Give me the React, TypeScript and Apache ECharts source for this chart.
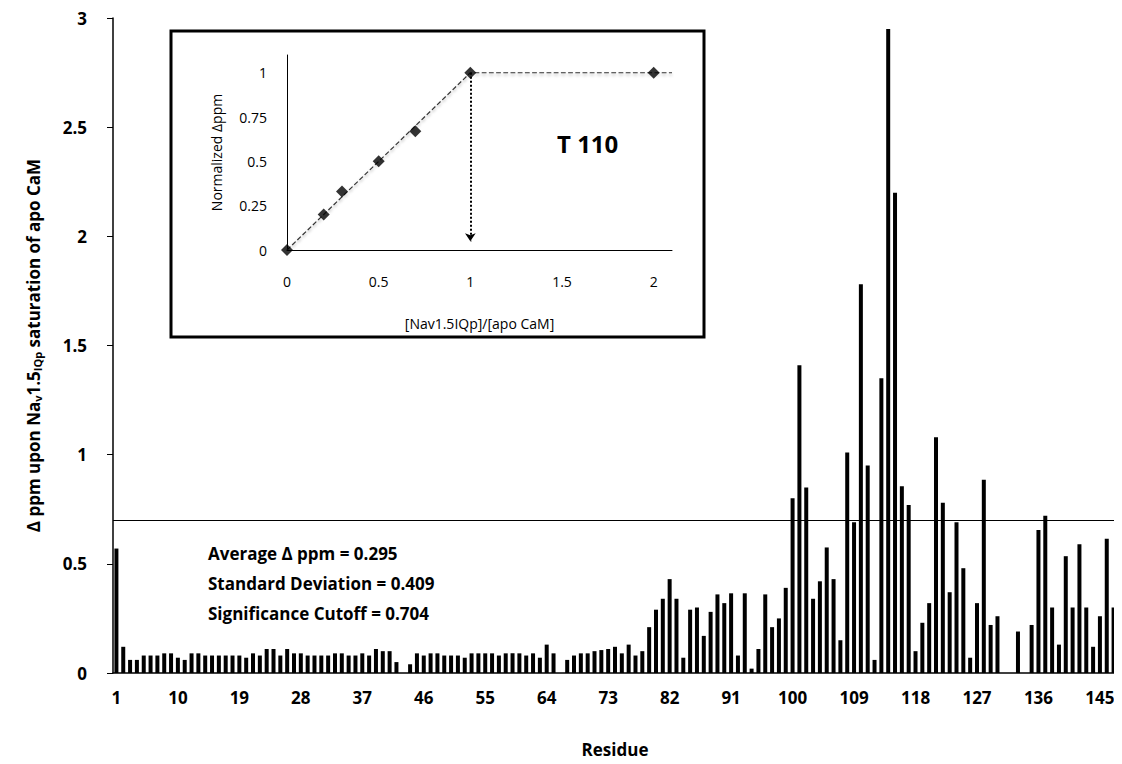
import React, { useEffect, useRef } from 'react';
import * as echarts from 'echarts';

const residues: string[] = Array.from({ length: 147 }, (_, i) => String(i + 1));

const deltaPpm: (number | null)[] = [
  0.57, 0.12, 0.06, 0.06, 0.08, 0.08, 0.08, 0.09, 0.09, 0.07,
  0.06, 0.09, 0.09, 0.08, 0.08, 0.08, 0.08, 0.08, 0.08, 0.07,
  0.09, 0.08, 0.11, 0.11, 0.08, 0.11, 0.09, 0.09, 0.08, 0.08,
  0.08, 0.08, 0.09, 0.09, 0.08, 0.08, 0.09, 0.08, 0.11, 0.10,
  0.10, 0.05, null, 0.04, 0.09, 0.08, 0.09, 0.09, 0.08, 0.08,
  0.08, 0.07, 0.09, 0.09, 0.09, 0.09, 0.08, 0.09, 0.09, 0.09,
  0.08, 0.09, 0.07, 0.13, 0.09, null, 0.06, 0.08, 0.09, 0.09,
  0.10, 0.105, 0.11, 0.12, 0.09, 0.13, 0.08, 0.10, 0.21, 0.29,
  0.34, 0.43, 0.34, 0.07, 0.29, 0.30, 0.17, 0.28, 0.36, 0.32,
  0.365, 0.08, 0.365, 0.02, 0.11, 0.36, 0.21, 0.25, 0.39, 0.80,
  1.41, 0.85, 0.34, 0.42, 0.575, 0.43, 0.15, 1.01, 0.69, 1.78,
  0.95, 0.06, 1.35, 2.95, 2.20, 0.855, 0.77, 0.10, 0.23, 0.32,
  1.08, 0.78, 0.37, 0.69, 0.48, 0.07, 0.32, 0.885, 0.22, 0.26,
  null, null, 0.19, null, 0.22, 0.655, 0.72, 0.30, 0.13, 0.535,
  0.30, 0.59, 0.30, 0.12, 0.26, 0.615, 0.30,
];

const cutoff = 0.704;
const statsLines = [
  'Average \u0394 ppm = 0.295',
  'Standard Deviation = 0.409',
  'Significance Cutoff = 0.704',
];

const ratio = [0, 0.2, 0.3, 0.5, 0.7, 1, 2];
const normalized = [0, 0.2, 0.33, 0.5, 0.67, 1, 1];
const fitLine: [number, number][] = [[0, 0], [1, 1], [2.1, 1]];

const App: React.FC = () => {
  const chartRef = useRef<HTMLDivElement>(null);

  useEffect(() => {
    if (!chartRef.current) return;
    const chart = echarts.init(chartRef.current, null, { renderer: 'svg' });
    const font = 'Open Sans, Liberation Sans, sans-serif';

    const option: echarts.EChartsOption = {
      animation: false,
      backgroundColor: '#ffffff',
      textStyle: { fontFamily: font },
      grid: [
        { left: 113, top: 18, width: 1004, height: 655 },
        { left: 287, top: 55, width: 385, height: 195 },
      ],
      xAxis: [
        {
          type: 'category',
          gridIndex: 0,
          data: residues,
          name: 'Residue',
          nameLocation: 'middle',
          nameGap: 68,
          nameTextStyle: { fontSize: 17, fontWeight: 'bold', color: '#000' },
          axisLine: { lineStyle: { color: '#000', width: 1.5 } },
          axisTick: { interval: 0, length: 7, lineStyle: { color: '#000' } },
          axisLabel: { interval: 8, margin: 16, fontSize: 17, fontWeight: 'bold', color: '#000' },
        },
        {
          type: 'value',
          gridIndex: 1,
          min: 0,
          max: 2.1,
          interval: 0.5,
          name: '[Nav1.5IQp]/[apo CaM]',
          nameLocation: 'middle',
          nameGap: 66,
          nameTextStyle: { fontSize: 14, color: '#000' },
          splitLine: { show: false },
          axisLine: { lineStyle: { color: '#000' } },
          axisTick: { show: false },
          axisLabel: { fontSize: 14, color: '#000', margin: 24, showMaxLabel: false },
        },
      ],
      yAxis: [
        {
          type: 'value',
          gridIndex: 0,
          min: 0,
          max: 3,
          interval: 0.5,
          name: '{a|\u0394 ppm upon Na}{s|v}{a|1.5}{s|IQp}{a| saturation of apo CaM}',
          nameLocation: 'middle',
          nameGap: 70,
          nameTextStyle: {
            rich: {
              a: { fontSize: 17, fontWeight: 'bold', color: '#000', fontFamily: font },
              s: { fontSize: 11, fontWeight: 'bold', color: '#000', fontFamily: font, verticalAlign: 'bottom', padding: [8, 0, 0, 0] },
            },
          },
          splitLine: { show: false },
          axisLine: { show: true, lineStyle: { color: '#000', width: 1.5 } },
          axisTick: { show: true, length: 6, lineStyle: { color: '#000' } },
          axisLabel: { fontSize: 17, fontWeight: 'bold', color: '#000', margin: 26 },
        },
        {
          type: 'value',
          gridIndex: 1,
          min: 0,
          max: 1.1,
          interval: 0.25,
          name: 'Normalized \u0394ppm',
          nameLocation: 'middle',
          nameGap: 64,
          nameTextStyle: { fontSize: 14, color: '#000' },
          splitLine: { show: false },
          axisLine: { show: true, lineStyle: { color: '#000' } },
          axisTick: { show: false },
          axisLabel: { fontSize: 14, color: '#000', margin: 20, showMaxLabel: false },
        },
      ],
      series: [
        {
          type: 'bar',
          xAxisIndex: 0,
          yAxisIndex: 0,
          data: deltaPpm,
          barWidth: 4,
          itemStyle: { color: '#000' },
          markLine: {
            silent: true,
            symbol: 'none',
            label: { show: false },
            lineStyle: { color: '#000', type: 'solid', width: 1.2 },
            data: [{ yAxis: cutoff }],
          },
        },
        {
          type: 'line',
          xAxisIndex: 1,
          yAxisIndex: 1,
          data: fitLine,
          symbol: 'none',
          lineStyle: { color: '#333', width: 1.2, type: 'dashed', shadowColor: 'rgba(0,0,0,0.35)', shadowBlur: 3, shadowOffsetY: 2 },
          markLine: {
            silent: true,
            symbol: ['none', 'arrow'],
            symbolSize: 8,
            label: { show: false },
            lineStyle: { color: '#000', type: 'dotted', width: 2 },
            data: [[{ coord: [1, 1] }, { coord: [1, 0.05] }]],
          },
        },
        {
          type: 'scatter',
          xAxisIndex: 1,
          yAxisIndex: 1,
          data: ratio.map((r, i) => [r, normalized[i]]),
          symbol: 'diamond',
          symbolSize: 12,
          itemStyle: { color: '#000' },
          z: 5,
        },
      ],
      graphic: [
        {
          type: 'rect',
          shape: { x: 171, y: 31, width: 533, height: 306 },
          style: { fill: 'none', stroke: '#000', lineWidth: 3 },
          z: 10,
        },
        {
          type: 'text',
          x: 557,
          y: 131,
          style: { text: 'T 110', fontSize: 24, fontWeight: 'bold', fill: '#000', fontFamily: font },
        },
        ...statsLines.map((t, i) => ({
          type: 'text' as const,
          x: 208,
          y: 545 + i * 30,
          style: { text: t, fontSize: 17, fontWeight: 'bold' as const, fill: '#000', fontFamily: font },
        })),
      ],
    };

    chart.setOption(option);
    return () => chart.dispose();
  }, []);

  return <div ref={chartRef} style={{ width: 1122, height: 764, margin: -8 }} />;
};

export default App;
